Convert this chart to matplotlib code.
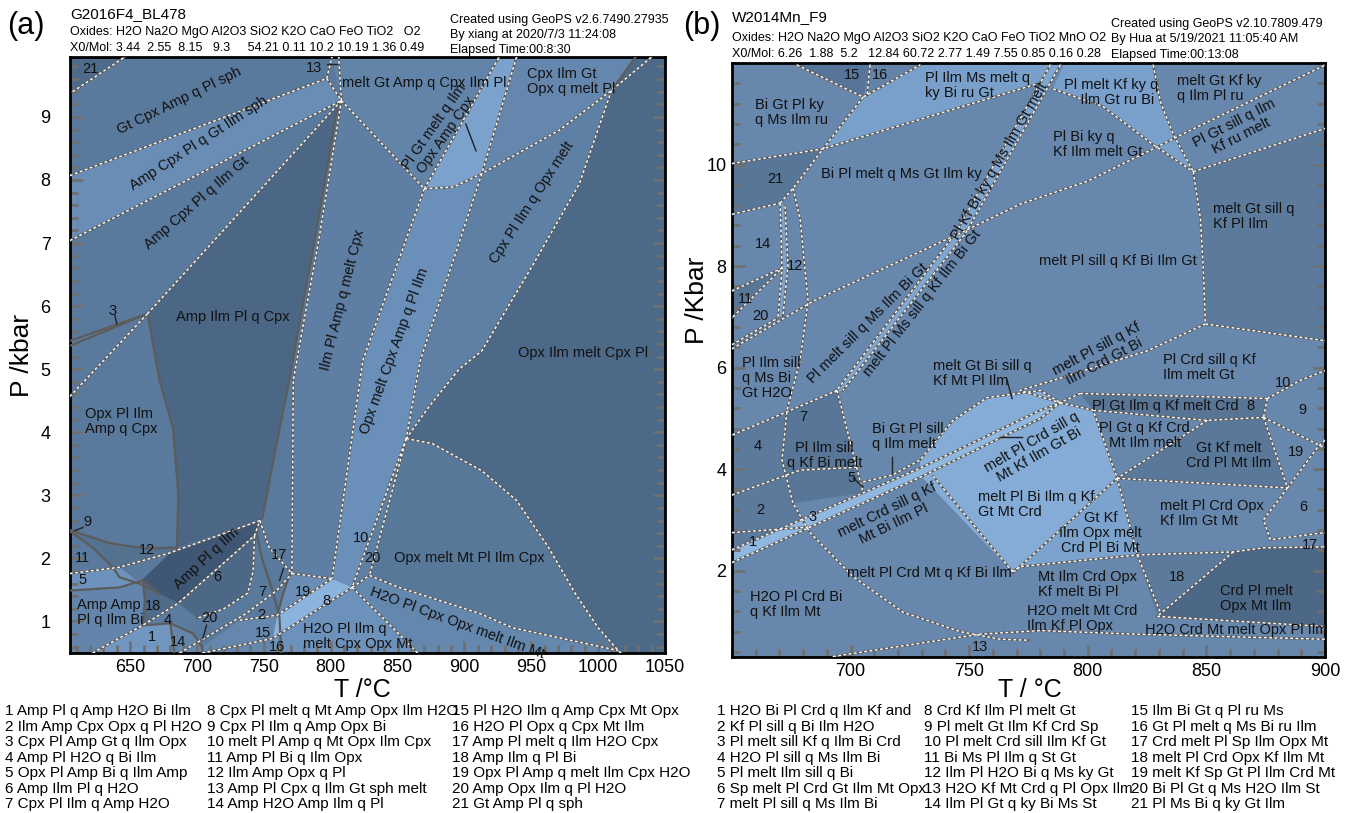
import matplotlib.pyplot as plt
from matplotlib.ticker import MultipleLocator

plt.rcParams['font.family'] = ['Liberation Sans', 'DejaVu Sans']

GRAY = '#5c5c5c'

# ================= panel (a) : G2016F4_BL478 =================
a_tlim = (605, 1050)
a_plim = (0.5, 9.95)
a_bg = '#5a7a9d'

# field polygons, (T degC, P kbar)
a_f21 = [(605, 9.95), (646, 9.95), (607, 9.40), (605, 9.38)]
a_fsph = [(605, 8.07), (797, 9.61), (808, 9.26), (605, 7.04)]
a_fdark = [(663, 5.88), (808, 9.26), (805, 9.15), (788, 7.04), (777, 5.77), (769, 4.82),
           (760, 3.87), (749, 2.65), (747, 2.60), (685, 2.17), (686, 3.03), (682, 4.07), (672, 4.82)]
a_fmelttop = [(801, 9.95), (808, 9.26), (870, 7.86), (926, 9.95)]
a_flens = [(870, 7.86), (926, 9.95), (939, 9.95), (913, 8.10), (892, 7.89)]
a_fcpxilmgt = [(939, 9.95), (1028, 9.95), (1010, 9.42), (971, 8.79), (913, 8.10)]
a_filmpl = [(808, 9.26), (870, 7.86), (824, 5.14), (801, 1.68), (771, 1.76), (772, 4.82),
            (780, 5.77), (791, 7.04)]
a_fopxmelt = [(870, 7.86), (892, 7.89), (913, 8.10), (867, 5.14), (856.5, 3.90), (816, 1.54),
              (801, 1.68), (824, 5.14)]
a_fcpxpl = [(913, 8.10), (971, 8.79), (1010, 9.42), (986, 7.94), (950, 6.61), (913, 5.29),
            (896, 5.0), (874, 4.42), (856.5, 3.90), (867, 5.14)]
a_fopxilm = [(1028, 9.95), (1050, 9.95), (1050, 0.5), (1017, 0.5), (1015, 0.54), (1000, 0.90),
             (983, 1.44), (963, 2.17), (939, 2.92), (913, 3.39), (876, 3.82), (856.5, 3.90),
             (874, 4.42), (896, 5.0), (913, 5.29), (950, 6.61), (986, 7.94), (1010, 9.42)]
a_f20 = [(856.5, 3.90), (829, 1.73), (816, 1.54)]
a_fopxmeltmt = [(856.5, 3.90), (876, 3.82), (913, 3.39), (939, 2.92), (963, 2.17), (983, 1.44),
                (1000, 0.90), (1015, 0.54), (936, 0.90), (911, 1.13), (851, 1.54), (829, 1.73)]
a_fh2o = [(816, 1.54), (829, 1.73), (851, 1.54), (911, 1.13), (936, 0.90), (1015, 0.54),
          (1017, 0.5), (865, 0.5), (861, 0.59)]
a_fh2opl = [(816, 1.54), (861, 0.59), (865, 0.5), (757, 0.5), (756.5, 0.73)]
a_f8 = [(756.5, 0.73), (760, 1.10), (801, 1.68), (816, 1.54)]
a_f19 = [(769, 1.73), (771, 1.76), (801, 1.68), (760, 1.10), (764, 1.41)]
a_fampplilm = [(657, 1.62), (680, 2.09), (747, 2.60), (743, 2.36), (686, 1.29), (672, 1.44)]
a_f6 = [(686, 1.29), (743, 2.36), (744.6, 2.39), (742, 1.8), (738, 1.45), (720, 1.2), (700, 1.05)]
a_f12 = [(605, 2.45), (635, 2.24), (660, 2.16), (685, 2.17), (680, 2.09), (642, 1.86),
         (637, 1.86), (622, 2.17), (605, 2.43)]
a_f5 = [(605, 1.76), (642, 1.86), (657, 1.62), (642, 1.54), (605, 1.49)]
a_fampamp = [(605, 1.49), (642, 1.54), (659.5, 1.65), (661, 1.33), (659.5, 0.94), (625, 0.54),
             (622, 0.5), (605, 0.5)]
a_f18 = [(659.5, 1.65), (672, 1.44), (686, 1.29), (659.5, 0.94), (661, 1.33)]
a_f4 = [(659.5, 0.94), (686, 1.29), (700, 1.05), (697, 0.81), (680, 0.97)]
a_f1 = [(622, 0.5), (625, 0.54), (659.5, 0.94), (680, 0.97), (683, 0.5)]
a_f14 = [(680, 0.97), (697, 0.81), (704, 0.59), (704, 0.5), (683, 0.5)]
a_f2 = [(704, 0.5), (704, 0.59), (732, 1.02), (760, 1.10), (756.5, 0.73), (757, 0.5)]

a_fields = [
    (a_f21, '#4f6b8b'), (a_fsph, '#6a8db5'), (a_fdark, '#4c6785'), (a_fmelttop, '#6384a9'),
    (a_flens, '#7aa2cd'), (a_fcpxilmgt, '#6687ad'), (a_filmpl, '#5e7fa3'),
    (a_fopxmelt, '#6a8fb9'), (a_fcpxpl, '#5f80a5'), (a_fopxilm, '#4d6988'), (a_f20, '#5f80a5'),
    (a_fopxmeltmt, '#587899'), (a_fh2o, '#6487ae'), (a_fh2opl, '#6c91ba'), (a_f8, '#8ab3de'),
    (a_f19, '#6a8db5'), (a_fampplilm, '#3f5775'), (a_f6, '#4d6886'), (a_f12, '#54718f'),
    (a_f5, '#6d92bb'), (a_fampamp, '#6385ab'), (a_f18, '#506b8a'), (a_f4, '#5b7b9f'),
    (a_f1, '#7197c1'), (a_f14, '#6586ab'), (a_f2, '#6687ad'),
]

# boundaries: 'd' grey with white dashes, 's' plain grey, 'k' label leader
a_lines = [
    ([(607, 9.40), (646, 9.95)], 'd'),
    ([(605, 8.07), (797, 9.61), (801, 9.95)], 'd'),
    ([(605, 7.04), (808, 9.26)], 'd'),
    ([(797, 9.61), (808, 9.26), (806, 9.95)], 'd'),
    ([(663, 5.88), (808, 9.26)], 'd'),
    ([(808, 9.26), (805, 9.15), (788, 7.04), (777, 5.77), (769, 4.82), (760, 3.87), (749, 2.65),
      (747, 2.60)], 's'),
    ([(808, 9.26), (791, 7.04), (780, 5.77), (772, 4.82), (771, 1.76)], 'd'),
    ([(808, 9.26), (870, 7.86)], 'd'),
    ([(870, 7.86), (926, 9.95)], 'd'),
    ([(939, 9.95), (913, 8.10)], 'd'),
    ([(870, 7.86), (892, 7.89), (913, 8.10), (971, 8.79), (1010, 9.42), (1040, 9.95)], 'd'),
    ([(1010, 9.42), (1028, 9.95)], 's'),
    ([(870, 7.86), (824, 5.14), (801, 1.68)], 'd'),
    ([(913, 8.10), (867, 5.14), (856.5, 3.90)], 'd'),
    ([(1010, 9.42), (986, 7.94), (950, 6.61), (913, 5.29), (896, 5.0), (874, 4.42),
      (856.5, 3.90)], 'd'),
    ([(856.5, 3.90), (816, 1.54)], 'd'),
    ([(856.5, 3.90), (829, 1.73)], 'd'),
    ([(856.5, 3.90), (876, 3.82), (913, 3.39), (939, 2.92), (963, 2.17), (983, 1.44),
      (1000, 0.90), (1015, 0.54), (1017, 0.5)], 'd'),
    ([(816, 1.54), (829, 1.73), (851, 1.54), (911, 1.13), (936, 0.90), (1015, 0.54)], 'd'),
    ([(816, 1.54), (861, 0.59), (865, 0.5)], 'd'),
    ([(732, 1.02), (760, 1.10), (801, 1.68)], 'd'),
    ([(704, 0.5), (756.5, 0.73), (816, 1.54)], 'd'),
    ([(771, 1.76), (769, 1.73), (764, 1.41), (760, 1.10)], 's'),
    ([(771, 1.76), (801, 1.68)], 'd'),
    ([(605, 5.45), (663, 5.88)], 's'),
    ([(605, 5.37), (663, 5.88)], 's'),
    ([(663, 5.88), (605, 4.57)], 'd'),
    ([(663, 5.88), (672, 4.82), (682, 4.07), (686, 3.03), (685, 2.17)], 's'),
    ([(605, 2.45), (635, 2.24), (660, 2.16), (685, 2.17)], 's'),
    ([(605, 2.43), (622, 2.17), (637, 1.86), (642, 1.70), (657, 1.60), (672, 1.44)], 's'),
    ([(605, 1.76), (642, 1.86), (680, 2.09), (747, 2.60)], 'd'),
    ([(605, 1.49), (642, 1.54), (659.5, 1.65), (672, 1.44)], 's'),
    ([(622, 0.5), (625, 0.54), (659.5, 0.94), (686, 1.29), (743, 2.36), (747, 2.60)], 'd'),
    ([(659.5, 1.65), (661, 1.33), (659.5, 0.94)], 's'),
    ([(659.5, 0.94), (680, 0.97), (697, 0.81), (704, 0.59), (704, 0.5)], 's'),
    ([(680, 0.97), (683, 0.5)], 's'),
    ([(747, 2.60), (744.6, 2.39), (749, 1.97), (756.5, 1.49), (761.7, 1.06), (763, 0.5)], 's'),
    ([(747, 2.60), (754, 2.17), (771, 1.76)], 'd'),
    ([(687, 0.5), (737, 1.13), (759.5, 1.49), (771, 1.76)], 'd'),
    ([(743, 2.36), (742, 1.8), (738, 1.45), (720, 1.2), (700, 1.05)], 'd'),
    ([(638.6, 5.85), (640, 5.72)], 'k'),
    ([(797.5, 9.84), (805, 9.84)], 'k'),
    ([(901, 8.89), (908.7, 8.46)], 'k'),
    ([(761.7, 1.65), (764.7, 1.84)], 'k'),
    ([(707.2, 0.94), (704.3, 0.73)], 'k'),
    ([(608.7, 2.44), (614.7, 2.49)], 'k'),
]

# (T, P, text, rotation, ha)
a_labels = [
    (620, 9.76, '21', 0, 'center'),
    (787.8, 9.78, '13', 0, 'center'),
    (687, 9.26, 'Gt Cpx Amp q Pl sph', 26, 'center'),
    (701, 8.58, 'Amp Cpx Pl q Gt Ilm sph', 33, 'center'),
    (700, 7.64, 'Amp Cpx Pl q Ilm Gt', 41, 'center'),
    (637, 5.93, '3', 0, 'center'),
    (727, 5.82, 'Amp Ilm Pl q Cpx', 0, 'center'),
    (809, 6.09, 'Ilm Pl Amp q melt Cpx', 76, 'center'),
    (847.5, 5.29, 'Opx melt Cpx Amp q Pl Ilm', 70, 'center'),
    (882, 8.78, 'Pl Gt melt q Ilm\nOpx Amp Cpx', 55, 'center'),
    (808.5, 9.54, 'melt Gt Amp q Cpx Ilm Pl', 0, 'left'),
    (946.8, 9.56, 'Cpx Ilm Gt\nOpx q melt Pl', 0, 'left'),
    (950.5, 7.64, 'Cpx Pl Ilm q Opx melt', 57, 'center'),
    (989, 5.26, 'Opx Ilm melt Cpx Pl', 0, 'center'),
    (616, 4.17, 'Opx Pl Ilm\nAmp q Cpx', 0, 'left'),
    (847.5, 2.0, 'Opx melt Mt Pl Ilm Cpx', 0, 'left'),
    (894.5, 0.97, 'H2O Pl Cpx Opx melt Ilm Mt', -20, 'center'),
    (779, 0.76, 'H2O Pl Ilm q\nmelt Cpx Opx Mt', 0, 'left'),
    (707, 2.0, 'Amp Pl q Ilm', 43, 'center'),
    (610, 1.14, 'Amp Amp\nPl q Ilm Bi', 0, 'left'),
    (618.4, 2.57, '9', 0, 'center'), (614, 2.01, '11', 0, 'center'),
    (662.5, 2.13, '12', 0, 'center'), (614.7, 1.65, '5', 0, 'center'),
    (667, 1.25, '18', 0, 'center'), (678, 1.02, '4', 0, 'center'),
    (709.5, 1.05, '20', 0, 'center'), (666.2, 0.75, '1', 0, 'center'),
    (685.6, 0.67, '14', 0, 'center'), (749, 0.81, '15', 0, 'center'),
    (759.5, 0.59, '16', 0, 'center'), (748, 1.10, '2', 0, 'center'),
    (749, 1.46, '7', 0, 'center'), (761.7, 2.05, '17', 0, 'center'),
    (779, 1.46, '19', 0, 'center'), (796.8, 1.33, '8', 0, 'center'),
    (822.9, 2.33, '10', 0, 'center'), (831, 2.01, '20', 0, 'center'),
    (715.4, 1.70, '6', 0, 'center'),
]

a_legend = [
    ['1 Amp Pl q Amp H2O Bi Ilm', '2 Ilm Amp Cpx Opx q Pl H2O', '3 Cpx Pl Amp Gt q Ilm Opx',
     '4 Amp Pl H2O q Bi Ilm', '5 Opx Pl Amp Bi q Ilm Amp', '6 Amp Ilm Pl q H2O',
     '7 Cpx Pl Ilm q Amp H2O'],
    ['8 Cpx Pl melt q Mt Amp Opx Ilm H2O', '9 Cpx Pl Ilm q Amp Opx Bi',
     '10 melt Pl Amp q Mt Opx Ilm Cpx', '11 Amp Pl Bi q Ilm Opx', '12 Ilm Amp Opx q Pl',
     '13 Amp Pl Cpx q Ilm Gt sph melt', '14 Amp H2O Amp Ilm q Pl'],
    ['15 Pl H2O Ilm q Amp Cpx Mt Opx', '16 H2O Pl Opx q Cpx Mt Ilm', '17 Amp Pl melt q Ilm H2O Cpx',
     '18 Amp Ilm q Pl Bi', '19 Opx Pl Amp q melt Ilm Cpx H2O', '20 Amp Opx Ilm q Pl H2O',
     '21 Gt Amp Pl q sph'],
]

# ================= panel (b) : W2014Mn_F9 =================
b_tlim = (650, 900)
b_plim = (0.3, 12.0)
b_bg = '#6787ad'

b_f15 = [(677.4, 11.96), (705.3, 11.33), (708.2, 11.96)]
b_f16 = [(708.2, 11.96), (707, 11.37), (729.3, 11.96)]
b_flt = [(729.3, 11.96), (784.2, 11.96), (778.7, 11.59), (688.4, 10.31), (705.3, 11.33), (707, 11.37)]
b_f21 = [(650, 10.02), (688.4, 10.31), (675.7, 9.53), (670.3, 9.24), (650, 9.02)]
b_f11 = [(650, 7.51), (671.1, 7.96), (650, 6.98)]
b_f12 = [(670.3, 9.24), (672.4, 9.18), (673.6, 8.0), (671.5, 7.02), (669.4, 6.98), (671.1, 7.96)]
b_fband = [(784.2, 11.96), (788.4, 11.96), (748.5, 8.65), (696.8, 5.55), (693.5, 5.51), (744.3, 8.65)]
b_fltr = [(789.7, 11.96), (827.6, 11.96), (830.6, 11.24), (836.1, 10.59), (844.5, 9.86),
          (827.6, 10.39), (806.5, 11.14), (785.4, 11.49)]
b_fmgs = [(844.5, 9.86), (847.5, 8.94), (848.7, 7.96), (849.6, 6.86), (900, 6.53), (900, 10.71)]
b_f8 = [(796.8, 5.49), (863.1, 5.41), (875.7, 5.39), (874.1, 5.02), (850.4, 4.96), (802.3, 5.16)]
b_fgkm = [(850.4, 4.96), (874.1, 5.02), (884.2, 3.63), (812.4, 3.82)]
b_f18 = [(820.9, 2.31), (861.4, 2.37), (829.3, 1.10)]
b_fcrdpl = [(861.4, 2.37), (874.1, 2.45), (900, 2.47), (900, 0.90), (829.3, 1.10)]
b_fgtkf = [(812.4, 3.82), (820.9, 2.31), (771.5, 2.08)]
b_fmeltplbi = [(729.3, 3.88), (780, 4.96), (788.4, 5.31), (802.3, 5.16), (812.4, 3.82),
               (771.5, 2.08), (768.6, 1.96)]
b_flens = [(729.3, 4.18), (743.2, 4.96), (757.6, 5.41), (780, 5.55), (788.4, 5.31), (780, 5.16),
           (729.3, 4.02)]
b_f3 = [(650, 2.41), (729.3, 4.02), (780, 5.16), (788.4, 5.31), (780, 5.0), (729.3, 3.84), (650, 2.16)]
b_fplilm = [(694.3, 5.55), (705.3, 3.53), (675.7, 3.33), (671.1, 4.18), (673.2, 5.14)]
b_f4 = [(650, 4.67), (673.2, 5.14), (671.1, 4.18), (675.7, 3.33), (682.9, 2.86), (650, 2.41)]

b_fields = [
    (b_f15, '#57759a'), (b_f16, '#6383a8'), (b_flt, '#79a0cb'), (b_f21, '#587698'),
    (b_f11, '#587698'), (b_f12, '#7aa2cc'), (b_fltr, '#79a0cb'), (b_fmgs, '#5c7a9c'),
    (b_f8, '#587596'), (b_fgkm, '#5a7899'), (b_f18, '#5b7a9c'), (b_fcrdpl, '#4d6886'),
    (b_fgtkf, '#7ba3cd'), (b_fmeltplbi, '#84acd6'), (b_flens, '#84acd6'), (b_f4, '#5b7a9c'),
    (b_fplilm, '#587697'), (b_f3, '#8fb7e0'), (b_fband, '#7ea6d0'),
]

b_lines = [
    ([(677.4, 11.96), (705.3, 11.33), (729.3, 11.96)], 'd'),
    ([(708.2, 11.96), (707, 11.37)], 'd'),
    ([(705.3, 11.33), (688.4, 10.31), (675.7, 9.53), (670.3, 9.24)], 'd'),
    ([(650, 10.02), (688.4, 10.31), (778.7, 11.59)], 'd'),
    ([(785.4, 11.49), (806.5, 11.14), (827.6, 10.39), (844.5, 9.86)], 'd'),
    ([(827.6, 11.96), (830.6, 11.24), (836.1, 10.59), (844.5, 9.86)], 'd'),
    ([(844.5, 9.86), (900, 10.71)], 'd'),
    ([(650, 6.37), (684.2, 7.31), (746.2, 8.65), (771.5, 9.22), (799.8, 9.67), (827.6, 10.31),
      (837.8, 10.55), (900, 11.96)], 'd'),
    ([(844.5, 9.86), (847.5, 8.94), (848.7, 7.96), (849.6, 6.86)], 'd'),
    ([(849.6, 6.86), (900, 6.53)], 'd'),
    ([(849.6, 6.86), (825.1, 6.33), (785.4, 5.75), (771.5, 5.55), (788.4, 5.31), (796.8, 5.49)], 'd'),
    ([(650, 9.02), (670.3, 9.24)], 'd'),
    ([(670.3, 9.24), (671.1, 7.96), (669.4, 6.98)], 'd'),
    ([(672.4, 9.18), (673.6, 8.0), (671.5, 7.02)], 'd'),
    ([(675.7, 9.53), (678.7, 8.94), (682.1, 7.31), (678.7, 6.14), (673.2, 5.16), (671.1, 4.18),
      (675.7, 3.33), (682.9, 2.75), (701.1, 1.88), (722.2, 1.18), (746.2, 0.80), (763, 0.65),
      (775, 0.63)], 'd'),
    ([(650, 7.51), (671.1, 7.96), (650, 6.98)], 'd'),
    ([(650, 6.45), (669.4, 6.98)], 'd'),
    ([(784.2, 11.96), (744.3, 8.65), (693.5, 5.51)], 'd'),
    ([(788.4, 11.96), (748.5, 8.65), (696.8, 5.55)], 'd'),
    ([(694.3, 5.55), (650, 4.67)], 'd'),
    ([(694.3, 5.55), (705.3, 3.53)], 'd'),
    ([(650, 2.41), (729.3, 4.02), (780, 5.16), (788.4, 5.31)], 'd'),
    ([(650, 2.16), (729.3, 3.84), (780, 5.0), (788.4, 5.31)], 'd'),
    ([(705.3, 3.75), (717.5, 3.88), (729.3, 4.18), (743.2, 4.96), (757.6, 5.41), (780, 5.55),
      (788.4, 5.31)], 'd'),
    ([(734.8, 3.86), (768.6, 1.96)], 'd'),
    ([(788.4, 5.31), (802.3, 5.16), (812.4, 3.82)], 'd'),
    ([(812.4, 3.82), (769, 1.98)], 'd'),
    ([(768, 1.98), (771.5, 2.08), (820.9, 2.31), (861.4, 2.37), (874.1, 2.45), (900, 2.47)], 'd'),
    ([(812.4, 3.82), (817.9, 2.86), (820.9, 2.31), (830.6, 1.18)], 'd'),
    ([(796.8, 5.49), (863.1, 5.41), (875.7, 5.39)], 'd'),
    ([(802.3, 5.16), (850.4, 4.96), (874.1, 5.02)], 'd'),
    ([(850.4, 4.96), (812.4, 3.82)], 'd'),
    ([(874.1, 5.02), (884.2, 3.63)], 'd'),
    ([(812.4, 3.82), (884.2, 3.63)], 'd'),
    ([(875.7, 5.39), (874.1, 5.02)], 'd'),
    ([(875.7, 5.39), (889.6, 5.75), (900, 5.94)], 'd'),
    ([(874.1, 5.02), (899.4, 4.43)], 'd'),
    ([(884.2, 3.63), (896.9, 4.43), (900, 4.57)], 'd'),
    ([(884.2, 3.63), (874.1, 3.0), (877, 2.61), (900, 2.75)], 'd'),
    ([(861.4, 2.37), (829.3, 1.10)], 'd'),
    ([(829.3, 1.10), (900, 0.90)], 'd'),
    ([(692.6, 0.31), (754.6, 0.75), (780, 0.82), (820, 0.75), (900, 0.65)], 'd'),
    ([(650, 3.49), (678.7, 3.98), (704, 4.04)], 'd'),
    ([(650, 2.75), (682.9, 2.86)], 'd'),
    ([(701.1, 3.82), (705.3, 3.65)], 'k'),
    ([(717.5, 4.24), (717.5, 3.92)], 'k'),
    ([(766, 5.75), (768.1, 5.39)], 'k'),
    ([(763.1, 4.63), (772.4, 4.63)], 'k'),
]

b_labels = [
    (700.6, 11.76, '15', 0, 'center'), (712.4, 11.76, '16', 0, 'center'),
    (659.7, 11.03, 'Bi Gt Pl ky\nq Ms Ilm ru', 0, 'left'),
    (731.4, 11.56, 'Pl Ilm Ms melt q\nky Bi ru Gt', 0, 'left'),
    (668.1, 9.71, '21', 0, 'center'),
    (721.3, 9.82, 'Bi Pl melt q Ms Gt Ilm ky', 0, 'center'),
    (663.1, 8.43, '14', 0, 'center'), (676.6, 8.0, '12', 0, 'center'),
    (655.5, 7.35, '11', 0, 'center'), (661.8, 7.02, '20', 0, 'center'),
    (763, 10.06, 'Pl Kf Bi ky q Ms Ilm Gt melt', 60, 'center'),
    (707.4, 6.88, 'Pl melt sill q Ms Ilm Bi Gt', 45, 'center'),
    (730.2, 7.27, 'melt Pl Ms sill q Kf Ilm Bi Gt', 52, 'center'),
    (810, 11.42, 'Pl melt Kf ky q\n   Ilm Gt ru Bi', 0, 'center'),
    (837.8, 11.50, 'melt Gt Kf ky\nq Ilm Pl ru', 0, 'left'),
    (863.1, 10.69, 'Pl Gt sill q Ilm\nKf ru melt', 27, 'center'),
    (785.4, 10.40, 'Pl Bi ky q\nKf Ilm melt Gt', 0, 'left'),
    (853, 8.98, 'melt Gt sill q\nKf Pl Ilm', 0, 'left'),
    (812.9, 8.10, 'melt Pl sill q Kf Bi Ilm Gt', 0, 'center'),
    (805.3, 6.24, 'melt Pl sill q Kf\nIlm Crd Gt Bi', 28, 'center'),
    (831.9, 6.01, 'Pl Crd sill q Kf\nIlm melt Gt', 0, 'left'),
    (882.5, 5.69, '10', 0, 'center'), (890.5, 5.16, '9', 0, 'center'),
    (868.6, 5.25, '8', 0, 'center'),
    (801.9, 5.25, 'Pl Gt Ilm q Kf melt Crd', 0, 'left'),
    (824, 4.66, 'Pl Gt q Kf Crd\nMt Ilm melt', 0, 'center'),
    (859.3, 4.26, 'Gt Kf melt\nCrd Pl Mt Ilm', 0, 'center'),
    (887.6, 4.33, '19', 0, 'center'), (890.9, 3.25, '6', 0, 'center'),
    (893.9, 2.51, '17', 0, 'center'),
    (830.6, 3.13, 'melt Pl Crd Opx\nKf Ilm Gt Mt', 0, 'left'),
    (805.3, 2.75, 'Gt Kf\nIlm Opx melt\nCrd Pl Bi Mt', 0, 'center'),
    (837.8, 1.88, '18', 0, 'center'),
    (779.1, 1.73, 'Mt Ilm Crd Opx\nKf melt Bi Pl', 0, 'left'),
    (774.5, 1.06, 'H2O melt Mt Crd\nIlm Kf Pl Opx', 0, 'left'),
    (855.9, 1.46, 'Crd Pl melt\nOpx Mt Ilm', 0, 'left'),
    (824.3, 0.84, 'H2O Crd Mt melt Opx Pl Ilm', 0, 'left'),
    (733.1, 1.96, 'melt Pl Crd Mt q Kf Bi Ilm', 0, 'center'),
    (716.7, 3.06, 'melt Crd sill q Kf\nMt Bi Ilm Pl', 26, 'center'),
    (657.6, 1.33, 'H2O Pl Crd Bi\nq Kf Ilm Mt', 0, 'left'),
    (753.8, 3.30, 'melt Pl Bi Ilm q Kf\nGt Mt Crd', 0, 'left'),
    (777.8, 4.41, 'melt Pl Crd sill q\nMt Kf Ilm Gt Bi', 30, 'center'),
    (709.1, 4.64, 'Bi Gt Pl sill\nq Ilm melt', 0, 'left'),
    (734.8, 5.88, 'melt Gt Bi sill q\nKf Mt Pl Ilm', 0, 'left'),
    (689, 4.27, 'Pl Ilm sill\nq Kf Bi melt', 0, 'center'),
    (654.2, 5.79, 'Pl Ilm sill\nq Ms Bi\nGt H2O', 0, 'left'),
    (661, 4.45, '4', 0, 'center'), (661.8, 3.20, '2', 0, 'center'),
    (658.9, 2.57, '1', 0, 'center'), (683.8, 3.06, '3', 0, 'center'),
    (700.6, 3.82, '5', 0, 'center'), (680, 5.02, '7', 0, 'center'),
    (754.6, 0.49, '13', 0, 'center'),
]

b_legend = [
    ['1 H2O Bi Pl Crd q Ilm Kf and', '2 Kf Pl sill q Bi Ilm H2O', '3 Pl melt sill Kf q Ilm Bi Crd',
     '4 H2O Pl sill q Ms Ilm Bi', '5 Pl melt Ilm sill q Bi', '6 Sp melt Pl Crd Gt Ilm Mt Opx',
     '7 melt Pl sill q Ms Ilm Bi'],
    ['8 Crd Kf Ilm Pl melt Gt', '9 Pl melt Gt Ilm Kf Crd Sp', '10 Pl melt Crd sill Ilm Kf Gt',
     '11 Bi Ms Pl Ilm q St Gt', '12 Ilm Pl H2O Bi q Ms ky Gt', '13 H2O Kf Mt Crd q Pl Opx Ilm',
     '14 Ilm Pl Gt q ky Bi Ms St'],
    ['15 Ilm Bi Gt q Pl ru Ms', '16 Gt Pl melt q Ms Bi ru Ilm', '17 Crd melt Pl Sp Ilm Opx Mt',
     '18 melt Pl Crd Opx Kf Ilm Mt', '19 melt Kf Sp Gt Pl Ilm Crd Mt', '20 Bi Pl Gt q Ms H2O Ilm St',
     '21 Pl Ms Bi q ky Gt Ilm'],
]


def draw_section(ax, bg, fields, lines, labels, tlim, plim):
    ax.set_facecolor(bg)
    for pts, col in fields:
        t, p = zip(*pts)
        ax.fill(t, p, color=col, lw=0, zorder=1)
    for pts, style in lines:
        t, p = zip(*pts)
        if style == 'k':
            ax.plot(t, p, color='#222222', lw=1.0, zorder=5)
            continue
        ax.plot(t, p, color=GRAY, lw=1.6, zorder=3, solid_joinstyle='round')
        if style == 'd':
            ax.plot(t, p, color='white', lw=1.0, dashes=(2.0, 1.8), zorder=4)
    for t, p, s, rot, ha in labels:
        ax.text(t, p, s, fontsize=10.5, ha=ha, va='center', rotation=rot,
                rotation_mode='anchor', linespacing=1.1, color='#111111', zorder=6)
    ax.set_xlim(*tlim)
    ax.set_ylim(*plim)
    for sp in ax.spines.values():
        sp.set_linewidth(2)
        sp.set_color('black')
    ax.tick_params(which='both', direction='in', color='#707070', width=2,
                   left=True, right=True, bottom=True, top=False, labelsize=13)
    ax.tick_params(which='major', length=9)
    ax.tick_params(which='minor', length=6)


fig = plt.figure(figsize=(13.56, 8.13), dpi=100)
ax_a = fig.add_axes([0.0516, 0.1968, 0.4388, 0.7331])
ax_b = fig.add_axes([0.5398, 0.1919, 0.4373, 0.7306])

draw_section(ax_a, a_bg, a_fields, a_lines, a_labels, a_tlim, a_plim)
ax_a.set_xticks(range(650, 1051, 50))
ax_a.set_yticks(range(1, 10))
ax_a.xaxis.set_minor_locator(MultipleLocator(10))
ax_a.yaxis.set_minor_locator(MultipleLocator(0.2))
ax_a.tick_params(axis='y', pad=14)
ax_a.tick_params(axis='x', pad=4)

draw_section(ax_b, b_bg, b_fields, b_lines, b_labels, b_tlim, b_plim)
ax_b.set_xticks(range(700, 901, 50))
ax_b.set_yticks(range(2, 11, 2))
ax_b.xaxis.set_minor_locator(MultipleLocator(10))
ax_b.yaxis.set_minor_locator(MultipleLocator(0.4))
ax_b.tick_params(axis='y', pad=4)
ax_b.tick_params(axis='x', pad=4)

W, H = 1356, 813


def ftext(x, y, s, **kw):
    fig.text(x / W, 1 - y / H, s, va='center', **kw)


# axis titles
ftext(22, 355, 'P /kbar', fontsize=19, rotation=90, ha='center')
ftext(362, 690, 'T /°C', fontsize=18, ha='center')
ftext(697, 300, 'P /Kbar', fontsize=19, rotation=90, ha='center')
ftext(1030, 690, 'T / °C', fontsize=18, ha='center')

# headers
ftext(26, 26, '(a)', fontsize=22, ha='center')
ftext(70, 14, 'G2016F4_BL478', fontsize=11)
ftext(70, 32, 'Oxides: H2O Na2O MgO Al2O3 SiO2 K2O CaO FeO TiO2   O2', fontsize=9)
ftext(70, 48, 'X0/Mol: 3.44  2.55  8.15   9.3     54.21 0.11 10.2 10.19 1.36 0.49', fontsize=9)
ftext(450, 20, 'Created using GeoPS v2.6.7490.27935', fontsize=9)
ftext(450, 35, 'By xiang at 2020/7/3 11:24:08', fontsize=9)
ftext(450, 50, 'Elapsed Time:00:8:30', fontsize=9)

ftext(702, 26, '(b)', fontsize=22, ha='center')
ftext(732, 17, 'W2014Mn_F9', fontsize=11)
ftext(732, 38, 'Oxides: H2O Na2O MgO Al2O3 SiO2 K2O CaO FeO TiO2 MnO O2', fontsize=9)
ftext(732, 54, 'X0/Mol: 6.26  1.88  5.2   12.84 60.72 2.77 1.49 7.55 0.85 0.16 0.28', fontsize=9)
ftext(1111, 24, 'Created using GeoPS v2.10.7809.479', fontsize=9)
ftext(1111, 39, 'By Hua at 5/19/2021 11:05:40 AM', fontsize=9)
ftext(1111, 55, 'Elapsed Time:00:13:08', fontsize=9)

# assemblage keys below each section
for xs, cols in (((5, 207, 452), a_legend), ((717, 924, 1131), b_legend)):
    for x, col in zip(xs, cols):
        for i, s in enumerate(col):
            ftext(x, 711 + 15.5 * i, s, fontsize=11)

fig.savefig('out.png', dpi=100)
